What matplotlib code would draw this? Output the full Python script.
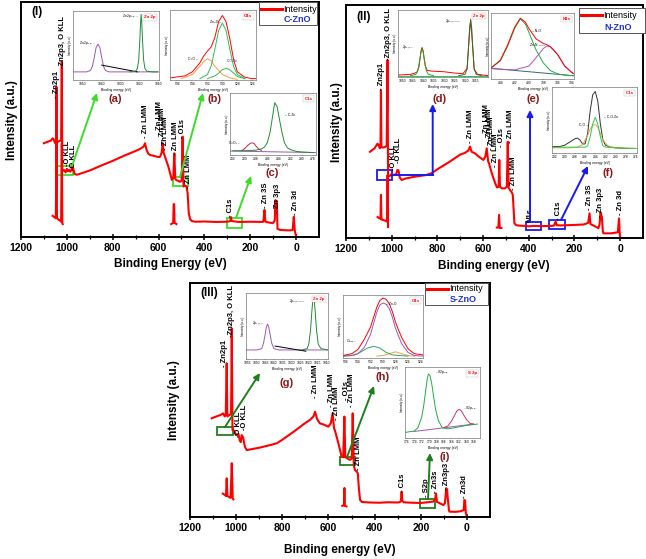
import matplotlib.pyplot as plt
from matplotlib import font_manager
from matplotlib.patches import Rectangle, FancyArrowPatch
from matplotlib.lines import Line2D

names = {f.name for f in font_manager.fontManager.ttflist}
SANS = 'Liberation Sans' if 'Liberation Sans' in names else 'DejaVu Sans'
NARROW = 'Liberation Sans Narrow' if 'Liberation Sans Narrow' in names else SANS
plt.rcParams['font.family'] = SANS

# ---------------- survey spectra (binding energy, intensity in % of axis) ----------------
c_up_E = [1100, 1085, 1070, 1062, 1058, 1052, 1047, 1045, 1043, 1040, 1030, 1025, 1022, 1020,
          1012, 1005, 1000, 995, 990, 985, 980, 976, 972, 966, 955, 900, 850, 800, 750, 700,
          680, 665, 659, 652, 645, 637, 620, 600, 593, 586, 582, 578, 572, 557, 542, 536, 531,
          527, 524, 506, 499, 495, 491, 486, 478, 473, 468, 462, 455, 440, 400, 350, 300, 287,
          284, 281, 250, 200, 145, 142, 138, 134, 110, 100, 93, 90, 87, 84, 81, 70, 30, 15, 10,
          6, 2, 0]
c_up_v = [39.9, 40.5, 41, 42, 41.6, 40, 41, 63.8, 40, 40.5, 41, 41, 74.6, 28,
          28.5, 27.5, 29, 28, 28.5, 27.8, 28.6, 31, 29, 26.8, 26.5, 28.3, 30.4, 32.4, 34.6, 36.6,
          37.5, 38.5, 39.9, 37, 35.5, 34.9, 34.5, 34, 34.2, 36, 39.9, 36, 34.2, 29.9, 24.3, 25, 35.6,
          24.8, 24.3, 23.5, 24, 42.7, 21.5, 22, 21.4, 18.6, 10, 7.5, 6.8, 6.5, 6.6, 6.4, 6.5, 6.8,
          8.5, 6.8, 6.4, 6.5, 6.4, 7, 11.5, 6.5, 6, 6, 7, 15.7, 10, 15, 3.5, 3, 2.8, 3, 8.6,
          3, 1, 0.9]
c_low_E = [1062, 1055, 1048, 1045, 1043, 1038, 1030, 1025, 1022, 1020, 1018]
c_low_v = [9, 8.5, 8, 40, 8, 7.5, 7, 6.5, 40, 6, 5.5]
c_gh_E = [545, 536, 534, 532, 530, 522]
c_gh_v = [5.5, 6, 14, 14, 6, 5.5]

n_up_E = [1095, 1075, 1062, 1058, 1052, 1049, 1047, 1045, 1040, 1030, 1022, 1018, 1016, 1010,
          1000, 990, 980, 975, 970, 965, 956, 940, 900, 850, 825, 800, 750, 700, 680, 665, 657,
          650, 635, 620, 599, 590, 584, 578, 574, 562, 547, 539, 532, 529, 526, 518, 504, 496,
          492, 488, 482, 474, 470, 466, 463, 455, 440, 420, 400, 380, 350, 300, 290, 285, 282,
          278, 260, 200, 160, 140, 134, 130, 110, 95, 90, 86, 83, 80, 76, 73, 40, 20, 10, 5, 2, 0]
n_up_v = [37, 38.5, 40.5, 40, 38.5, 39, 63.5, 39, 38.8, 39, 39.5, 76.4, 27, 26.5,
          27.5, 27, 27.5, 29.2, 29, 26, 24.9, 25.5, 26.3, 27, 27.8, 29.5, 32.5, 35.8, 36.5, 37.5, 39.2,
          37, 36.3, 35, 33.5, 35, 38.5, 33, 32, 27.8, 23.5, 21.7, 22, 33.5, 22, 21.3, 21.3, 22,
          41.3, 21.5, 20.6, 19.5, 18.5, 12, 6.3, 5.5, 5.3, 5.2, 5, 5.2, 5.1, 5.2, 5.3, 6.5, 7,
          5.5, 5.4, 5.6, 5.8, 6.5, 10.6, 6, 5, 4.2, 6, 11, 10, 9, 3, 2, 2, 2.3, 2.5, 8.4, 2, 0.5]
n_low_E = [1062, 1055, 1049, 1047, 1045, 1040, 1030, 1025, 1020, 1018, 1016]
n_low_v = [9, 8.5, 8.3, 18.5, 8, 7.8, 7.5, 7.3, 7, 27, 4.7]
n_gh_E = [540, 533, 530, 527, 520]
n_gh_v = [4.5, 4.5, 9.9, 4.3, 4.3]

s_up_E = [1106, 1085, 1070, 1056, 1050, 1045, 1041, 1038, 1030, 1022, 1019, 1016, 1010, 1000,
          990, 985, 980, 976, 970, 962, 954, 900, 850, 824, 800, 750, 700, 680, 665, 658, 650,
          637, 620, 601, 590, 582, 576, 572, 557, 543, 536, 531, 527, 521, 507, 499, 495, 490,
          485, 478, 473, 468, 463, 455, 420, 380, 340, 300, 290, 286, 283, 280, 275, 240, 200,
          170, 145, 138, 134, 130, 110, 102, 95, 90, 86, 83, 78, 76, 50, 25, 14, 11, 8, 5, 1]
s_up_v = [42.2, 43, 43.5, 44.3, 43, 43.5, 65.7, 43, 43.5, 44, 80.6, 37.2, 37, 35,
          35.5, 33, 32, 35, 34, 30, 28.6, 29.6, 30.8, 31.5, 33, 36.5, 40.2, 41.5, 43, 45, 42,
          40, 39.5, 38.6, 40, 44.3, 38, 37, 31.5, 25.8, 25.5, 42.9, 25.5, 25.2, 24.4, 25, 44.3, 22,
          20, 19.5, 18.7, 12, 7.3, 6.4, 6.2, 6.1, 6.3, 6.2, 6.4, 7, 10.8, 7, 6.3, 6.1, 6,
          6.3, 6.6, 7.5, 10.1, 6.5, 5.5, 5.1, 6, 12.3, 11.8, 8, 3, 2.3, 2.2, 2.5, 3, 7.3, 7, 2, 0.2]
s_low_E = [1058, 1050, 1044, 1041, 1038, 1030, 1024, 1019, 1015, 1012]
s_low_v = [10, 9.5, 9, 16.5, 9, 8.5, 8.2, 23, 8, 7.5]
s_gh_E = [540, 533, 531, 529, 522]
s_gh_v = [4.8, 5, 12.4, 4.8, 4.5]

# ---------------- high resolution insets (energy, normalised intensity) ----------------
a_p_E = [1055, 1048, 1046, 1045, 1044, 1043, 1042, 1041, 1040, 1039, 1038, 1036, 1025, 1010]
a_p_v = [0.12, 0.12, 0.14, 0.2, 0.33, 0.48, 0.53, 0.48, 0.33, 0.2, 0.14, 0.12, 0.12, 0.12]
a_bg_E = [1040, 1021]
a_bg_v = [0.22, 0.12]
a_g_E = [1025, 1022, 1021, 1020.3, 1019.7, 1019.3, 1019, 1018.7, 1018.3, 1017.7, 1017, 1016, 1013, 1010]
a_g_v = [0.12, 0.13, 0.17, 0.3, 0.6, 0.86, 0.97, 0.86, 0.6, 0.3, 0.17, 0.13, 0.12, 0.12]

b_r_E = [537, 535, 534, 533, 532.5, 532, 531.5, 531, 530.5, 530, 529.5, 529, 528.5, 528, 527, 526, 525.5]
b_r_v = [0.03, 0.06, 0.12, 0.25, 0.35, 0.42, 0.48, 0.62, 0.85, 0.94, 0.85, 0.6, 0.3, 0.12, 0.04, 0.02, 0.02]
b_g_E = [533, 532, 531.5, 531, 530.5, 530, 529.5, 529, 528.5, 528, 527]
b_g_v = [0.02, 0.08, 0.2, 0.45, 0.72, 0.83, 0.72, 0.45, 0.2, 0.08, 0.02]
b_o_E = [535.5, 534, 533, 532.5, 532, 531.5, 531, 530, 529, 528]
b_o_v = [0.02, 0.08, 0.2, 0.27, 0.31, 0.28, 0.2, 0.08, 0.03, 0.01]
b_s_E = [532, 531, 530.5, 530, 529.5, 529, 528.5, 528, 527]
b_s_v = [0.02, 0.06, 0.1, 0.15, 0.17, 0.15, 0.1, 0.05, 0.02]

c_g_E = [292, 290, 288, 287, 286.5, 286, 285.5, 285, 284.7, 284.3, 284, 283.5, 283, 282.5, 282, 281, 280, 278]
c_g_v = [0.07, 0.07, 0.08, 0.1, 0.13, 0.2, 0.38, 0.68, 0.86, 0.8, 0.65, 0.4, 0.2, 0.12, 0.09, 0.06, 0.05, 0.04]
c_r_E = [290.5, 290, 289.5, 289, 288.7, 288.3, 288, 287.5, 287]
c_r_v = [0.07, 0.1, 0.15, 0.19, 0.2, 0.19, 0.15, 0.1, 0.075]
c_bg_E = [292.5, 277.5]
c_bg_v = [0.065, 0.04]

d_g1_E = [1046, 1043.5, 1042.5, 1041.5, 1041, 1040.5, 1040, 1039.5, 1038.5, 1037.5, 1035]
d_g1_v = [0.02, 0.04, 0.1, 0.28, 0.38, 0.43, 0.38, 0.28, 0.1, 0.04, 0.02]
d_g2_E = [1023, 1020, 1019, 1018.3, 1017.8, 1017.3, 1016.8, 1016.3, 1015.6, 1014.6, 1012]
d_g2_v = [0.02, 0.04, 0.12, 0.45, 0.75, 0.86, 0.75, 0.45, 0.12, 0.04, 0.02]
d_r_E = [1052, 1046, 1043, 1042, 1041, 1040.5, 1040, 1039, 1038, 1036, 1030, 1025, 1021, 1019,
         1018.3, 1017.3, 1016.3, 1015.6, 1014, 1009]
d_r_v = [0.03, 0.04, 0.07, 0.15, 0.4, 0.45, 0.4, 0.17, 0.1, 0.09, 0.08, 0.06, 0.05, 0.13,
         0.46, 0.88, 0.46, 0.12, 0.04, 0.02]
d_bg_E = [1052, 1009]
d_bg_v = [0.02, 0.02]

e_g_E = [405.3, 404, 403, 402, 401.2, 400.5, 400, 399, 398, 397, 396, 395, 393.7]
e_g_v = [0.17, 0.28, 0.5, 0.78, 0.93, 0.85, 0.72, 0.45, 0.25, 0.13, 0.08, 0.06, 0.05]
e_p_E = [405.3, 402, 400, 399, 398, 397.5, 397, 396, 395, 394, 393.7]
e_p_v = [0.16, 0.14, 0.2, 0.33, 0.47, 0.51, 0.5, 0.38, 0.2, 0.1, 0.08]
e_r_E = [405.3, 404, 403, 402, 401.2, 400.5, 400, 399, 398, 397.5, 397, 396, 395, 394, 393.7]
e_r_v = [0.17, 0.29, 0.52, 0.8, 0.94, 0.88, 0.78, 0.62, 0.55, 0.53, 0.5, 0.38, 0.2, 0.1, 0.08]
e_bg_E = [405.3, 393.7]
e_bg_v = [0.165, 0.05]

f_k_E = [292.5, 291, 290, 289, 288, 287.5, 287, 286.5, 286, 285.5, 285, 284.5, 284, 283.5, 283,
         282.5, 282, 281, 280, 278, 276]
f_k_v = [0.1, 0.1, 0.12, 0.17, 0.22, 0.23, 0.2, 0.14, 0.14, 0.3, 0.65, 0.9, 0.95, 0.8, 0.45,
         0.2, 0.12, 0.09, 0.08, 0.07, 0.07]
f_g_E = [292.5, 288, 286, 285.5, 285, 284.5, 284, 283.5, 283, 282.5, 282, 280, 276]
f_g_v = [0.09, 0.09, 0.09, 0.11, 0.25, 0.45, 0.55, 0.45, 0.25, 0.11, 0.09, 0.08, 0.07]
f_o_E = [292.5, 289, 287.5, 286.5, 285.5, 285, 284.5, 284, 283.5, 283, 282.5, 281.5, 280, 276]
f_o_v = [0.08, 0.08, 0.09, 0.13, 0.27, 0.37, 0.43, 0.44, 0.4, 0.3, 0.2, 0.11, 0.08, 0.07]

g_p_E = [1056, 1050, 1047, 1046, 1045, 1044.3, 1043.6, 1043, 1042.2, 1041.2, 1040, 1037, 1025, 1009]
g_p_v = [0.14, 0.14, 0.16, 0.24, 0.38, 0.5, 0.54, 0.5, 0.38, 0.24, 0.16, 0.14, 0.14, 0.14]
g_g_E = [1024, 1021, 1020, 1019, 1018.3, 1017.8, 1017.3, 1016.8, 1016.3, 1015.6, 1014.6, 1013, 1009]
g_g_v = [0.14, 0.16, 0.23, 0.45, 0.72, 0.88, 0.94, 0.88, 0.72, 0.45, 0.23, 0.16, 0.14]
g_bg_E = [1039.3, 1021.7]
g_bg_v = [0.2, 0.12]

h_r_E = [536.4, 535, 534, 533, 532, 531, 530.5, 530, 529.5, 529, 528.5, 528, 527.5, 527, 526, 525, 523.6]
h_r_v = [0.04, 0.07, 0.14, 0.3, 0.5, 0.82, 0.93, 0.97, 0.95, 0.88, 0.75, 0.58, 0.45, 0.33, 0.15, 0.07, 0.05]
h_p_v = [0.03, 0.04, 0.07, 0.17, 0.38, 0.74, 0.86, 0.89, 0.87, 0.8, 0.66, 0.48, 0.35, 0.23, 0.09, 0.04, 0.03]
h_g_E = [536.4, 534.5, 533.5, 532.5, 531.5, 530.5, 529.5, 528.5, 526]
h_g_v = [0.03, 0.05, 0.1, 0.16, 0.19, 0.16, 0.09, 0.05, 0.03]
h_o_E = [531, 530, 529, 528, 527, 526, 525]
h_o_v = [0.03, 0.04, 0.07, 0.1, 0.07, 0.04, 0.03]

i_g_E = [176.5, 174, 173, 172, 171.5, 171, 170.5, 170.2, 169.8, 169.3, 168.8, 168.3, 167.5, 166.5, 165, 162, 160, 157]
i_g_v = [0.08, 0.1, 0.15, 0.3, 0.45, 0.65, 0.85, 0.92, 0.9, 0.78, 0.6, 0.42, 0.25, 0.15, 0.13, 0.16, 0.18, 0.2]
i_r_E = [166, 165, 164, 163, 162.5, 162, 161.5, 161, 160, 159, 158]
i_r_v = [0.15, 0.17, 0.24, 0.34, 0.39, 0.41, 0.4, 0.36, 0.27, 0.21, 0.2]
i_bg_E = [174, 158]
i_bg_v = [0.094, 0.2]

W, H = 646, 559
fig = plt.figure(figsize=(W / 100, H / 100), dpi=100)


def rect(x0, y0, x1, y1):
    return [x0 / W, 1 - y1 / H, (x1 - x0) / W, (y1 - y0) / H]


def fp(x, y):
    return (x / W, 1 - y / H)


def survey(r, traces, peaks, boxes, bcol):
    ax = fig.add_axes(rect(*r))
    for E, v in traces:
        ax.plot(E, v, color='red', lw=1.5)
    ax.set_xlim(1200, -100)
    ax.set_ylim(0, 100)
    ax.set_yticks([])
    ax.set_xticks(range(0, 1201, 200))
    ax.set_xticks(range(100, 1200, 200), minor=True)
    ax.tick_params(axis='x', which='major', direction='inout', length=5, width=1.1, labelsize=7.5, pad=1.5)
    ax.tick_params(axis='x', which='minor', direction='inout', length=3, width=0.9)
    for t in ax.get_xticklabels():
        t.set_fontweight('bold')
    for s in ax.spines.values():
        s.set_linewidth(1.4)
    for txt, E, v in peaks:
        ax.text(E, v, txt, rotation=90, ha='center', va='bottom', fontsize=5.5,
                fontweight='bold', family=NARROW)
    for e0, e1, v0, v1 in boxes:
        ax.add_patch(Rectangle((e0, v0), e1 - e0, v1 - v0, fill=False, ec=bcol, lw=1.3))
    return ax


def legend(x0, y0, x1, y1, ly, ny, name):
    fig.add_artist(Rectangle(fp(x0, y1), (x1 - x0) / W, (y1 - y0) / H, transform=fig.transFigure,
                             fc='white', ec='#555555', lw=0.7))
    fig.add_artist(Line2D([(x0 + 2) / W, (x0 + 23) / W], [1 - ly / H] * 2, transform=fig.transFigure,
                          color='red', lw=2.2))
    fig.text(*fp(x0 + 24, ly), 'Intensity', fontsize=6.5, va='center')
    fig.text(*fp(x0 + 25, ny), name, fontsize=6.5, va='center', fontweight='bold', color='#2233cc')


def inset(r, xlim, xticks, curves, notes, tag):
    ax = fig.add_axes(rect(*r))
    for E, v, c in curves:
        ax.plot(E, v, color=c, lw=0.7)
    ax.set_xlim(*xlim)
    ax.set_ylim(0, 1.02)
    ax.set_xticks(xticks)
    ax.set_yticks([])
    ax.tick_params(labelsize=2.4, length=1, width=0.3, pad=0.6)
    ax.set_xlabel('Binding energy (eV)', fontsize=2.4, labelpad=1)
    ax.set_ylabel('Intensity (a.u.)', fontsize=2.2, labelpad=0.6)
    for s in ax.spines.values():
        s.set_linewidth(0.5)
        s.set_color('#777777')
    ax.text(0.96, 0.94, tag, transform=ax.transAxes, color='red', fontsize=3.2, fontweight='bold',
            ha='right', va='top', bbox=dict(fc='white', ec='#bbbbbb', lw=0.3, pad=1))
    for txt, E, v, ha, col in notes:
        ax.text(E, v, txt, fontsize=2.4, ha=ha, va='center', color=col)
    return ax


def arrow(pts, col):
    if len(pts) > 2:
        fig.add_artist(Line2D([p[0] / W for p in pts[:-1]], [1 - p[1] / H for p in pts[:-1]],
                              transform=fig.transFigure, color=col, lw=1.4))
    fig.add_artist(FancyArrowPatch(fp(*pts[-2]), fp(*pts[-1]), transform=fig.transFigure,
                                   arrowstyle='-|>', mutation_scale=9, color=col, lw=1.4,
                                   shrinkA=0, shrinkB=0))


# ---------------- panel (I) C-ZnO ----------------
survey((21, 2, 319, 237), [(c_up_E, c_up_v), (c_low_E, c_low_v), (c_gh_E, c_gh_v)],
       [("- Zn2p1", 1043, 59), ("-Zn2p3, O KLL", 1021, 72), ("-O KLL", 995, 30), ("-O KLL", 973, 28.5),
        ("- Zn LMM", 659, 42), ("Zn LMM", 596, 45.5), ("- Zn LMM", 582, 41), ("- Zn LMM", 569, 37),
        ("- Zn LMM", 528, 35), ("- O1s", 494, 42), ("- Zn LMM", 470, 21), ("- C1s", 288, 8.5),
        ("- Zn 3S", 135, 12.3), ("- Zn 3p3", 83, 10.2), ("- Zn 3d", 4, 9.4)],
       [(1042, 975, 26.4, 30.2), (538, 470, 21.7, 25.7), (302, 237, 3.7, 8)], '#3ddc2a')
legend(259, 2, 317, 25, 9, 20, 'C-ZnO')
fig.text(*fp(37, 12), '(I)', fontsize=8.5, fontweight='bold', ha='center', va='center')
fig.text(*fp(12, 120), 'Intensity (a.u.)', rotation=90, fontsize=8.5, fontweight='bold', ha='center', va='center')
fig.text(*fp(170, 264), 'Binding Energy (eV)', fontsize=8.5, fontweight='bold', ha='center', va='center')

inset((73, 11, 159, 80), (1055.3, 1009.5), [1050, 1040, 1030, 1020, 1010],
      [(a_p_E, a_p_v, '#9b59b6'), (a_bg_E, a_bg_v, 'black'), (a_g_E, a_g_v, '#1e8c3a')],
      [('Zn 2p$_{1/2}$ –', 1043, 0.54, 'right', 'black'), ('Zn 2p$_{3/2}$ –', 1020.2, 0.93, 'right', 'black')],
      'Zn 2p')
inset((170, 10, 256, 80), (537, 525.5), [536, 534, 532, 530, 528, 526],
      [(b_o_E, b_o_v, '#f0a040'), (b_s_E, b_s_v, '#33bb55'), (b_g_E, b_g_v, '#33bb55'), (b_r_E, b_r_v, 'red')],
      [('Zn–O –', 530.2, 0.84, 'right', 'black'), ('C=O –', 533.3, 0.3, 'right', 'black'),
       ('C-O-Zn', 529.4, 0.27, 'left', '#2233aa')], 'O1s')
inset((230, 93, 316, 155), (292.5, 277.5), [292, 290, 288, 286, 284, 282, 280, 278],
      [(c_bg_E, c_bg_v, '#9b59b6'), (c_r_E, c_r_v, '#cc2244'), (c_g_E, c_g_v, '#1e8c3a')],
      [('– C-Zn', 282.9, 0.65, 'left', 'black'), ('C=O$_1$ –', 290.6, 0.2, 'right', 'black')], 'C1s')
for t, x, y in [('(a)', 115, 99), ('(b)', 214, 99), ('(c)', 272, 173)]:
    fig.text(*fp(x, y), t, fontsize=8, fontweight='bold', color='#8b1a1a', ha='center', va='center')
arrow([(72, 166), (97, 93)], '#3ddc2a')
arrow([(180, 177), (203, 93)], '#3ddc2a')
arrow([(236, 218), (251, 176)], '#3ddc2a')

# ---------------- panel (II) N-ZnO ----------------
survey((346, 5, 643, 238), [(n_up_E, n_up_v), (n_low_E, n_low_v), (n_gh_E, n_gh_v)],
       [("- Zn2p1", 1044, 63.5), ("-Zn2p3, O KLL", 1015, 76.4), ("-O KLL", 993, 29.2), ("-O KLL", 971, 32.2),
        ("- Zn LMM", 657, 40.8), ("Zn LMM", 584, 45), ("- Zn LMM", 574, 41), ("- Zn LMM", 565, 37.8),
        ("- Zn LMM", 544, 30.5), ("- O1s", 518, 39), ("- Zn LMM", 482, 40.8), ("- Zn LMM", 467, 20.6),
        ("N1s", 394, 6.9), ("- C1s", 270, 7.7), ("- Zn 3S", 134, 12), ("- Zn 3p3", 84, 9), ("- Zn 3d", 0, 9.9)],
       [(1066, 1000, 24.9, 29.2), (412, 346, 3.4, 7), (310, 241, 3.7, 7.7)], '#1a1aee')
legend(579, 8, 645, 33, 15, 27, 'N-ZnO')
fig.text(*fp(364, 17), '(II)', fontsize=8.5, fontweight='bold', ha='center', va='center')
fig.text(*fp(337, 122), 'Intensity (a.u.)', rotation=90, fontsize=8.5, fontweight='bold', ha='center', va='center')
fig.text(*fp(494, 266), 'Binding energy (eV)', fontsize=8.5, fontweight='bold', ha='center', va='center')

inset((398, 10, 488, 77), (1052, 1009), [1050, 1045, 1040, 1035, 1030, 1025, 1020, 1015],
      [(d_bg_E, d_bg_v, '#33bb55'), (d_r_E, d_r_v, 'red'), (d_g1_E, d_g1_v, '#22aa33'), (d_g2_E, d_g2_v, '#1e7a2e')],
      [('2p$_{1/2}$ –', 1044.4, 0.45, 'right', 'black'), ('2p$_{3/2}$ ——', 1021.4, 0.84, 'right', 'black')],
      'Zn 2p')
inset((491, 13, 574, 79), (405.3, 393.7), [404, 402, 400, 398, 396, 394],
      [(e_bg_E, e_bg_v, '#2f6f6f'), (e_p_E, e_p_v, '#b050c0'), (e_g_E, e_g_v, '#22aa44'), (e_r_E, e_r_v, 'red')],
      [('– N-O', 399.6, 0.74, 'left', 'black'), ('Zn-N ——', 397.8, 0.53, 'right', 'black')], 'N1s')
inset((552, 87, 637, 153), (292.5, 275.8), [292, 290, 288, 286, 284, 282, 280, 278, 276],
      [(f_k_E, f_k_v, '#333333'), (f_o_E, f_o_v, '#e8a050'), (f_g_E, f_g_v, '#33cc44')],
      [('– C-O-Zn', 282.3, 0.55, 'left', 'black'), ('C-O –', 285.4, 0.43, 'right', 'black')], 'C1s')
for t, x, y in [('(d)', 440, 99), ('(e)', 533, 99), ('(f)', 608, 173)]:
    fig.text(*fp(x, y), t, fontsize=8, fontweight='bold', color='#8b1a1a', ha='center', va='center')
arrow([(391.7, 175), (432.7, 175), (432.7, 104)], '#1a1aee')
arrow([(530, 222), (530, 110)], '#1a1aee')
arrow([(561, 220), (588, 166)], '#1a1aee')

# ---------------- panel (III) S-ZnO ----------------
survey((190, 283, 490, 517), [(s_up_E, s_up_v), (s_low_E, s_low_v), (s_gh_E, s_gh_v)],
       [("- Zn2p1", 1050, 64), ("-Zn2p3, O KLL", 1019, 77), ("-O KLL", 991, 34.2), ("-O KLL", 966, 37.2),
        ("- Zn LMM", 658, 50.9), ("- Zn LMM", 586, 47), ("- Zn LMM", 567, 41.5), ("- O1s", 524, 50),
        ("- Zn LMM", 500, 47), ("- Zn LMM", 471, 20), ("- C1s", 280, 10.7), ("- S2p", 175, 8.5),
        ("- Zn3s", 136, 10.3), ("- Zn3p3", 88, 11.5), ("- Zn3d", 12, 8.1)],
       [(1082, 1015, 35, 38.6), (550, 485, 22.2, 25.8), (204, 139, 3.7, 7.6)], '#1f7f1f')
legend(425, 283, 488, 305, 289, 300, 'S-ZnO')
fig.text(*fp(209, 293), '(III)', fontsize=8.5, fontweight='bold', ha='center', va='center')
fig.text(*fp(174, 400), 'Intensity (a.u.)', rotation=90, fontsize=8.5, fontweight='bold', ha='center', va='center')
fig.text(*fp(340, 550), 'Binding energy (eV)', fontsize=8.5, fontweight='bold', ha='center', va='center')

inset((246, 293, 328, 359), (1056, 1009), [1055, 1050, 1045, 1040, 1035, 1030, 1025, 1020, 1015, 1010],
      [(g_p_E, g_p_v, '#9b59b6'), (g_bg_E, g_bg_v, 'black'), (g_g_E, g_g_v, '#1e8c3a')],
      [('2p$_{1/2}$ –', 1045.7, 0.55, 'right', 'black'), ('2p$_{3/2}$ ——', 1021.6, 0.88, 'right', 'black')],
      'Zn 2p')
inset((343, 295, 423, 358), (536.4, 523.6), [536, 534, 532, 530, 528, 526, 524],
      [(h_o_E, h_o_v, '#e8a050'), (h_g_E, h_g_v, '#33aa55'), (h_r_E, h_p_v, '#9b59b6'), (h_r_E, h_r_v, 'red')],
      [('– Zn-O', 529.5, 0.88, 'left', 'black'), ('O$_{def}$ –', 534.2, 0.27, 'right', 'black')], 'O1s')
inset((405, 367, 480, 438), (176.5, 156.3), [176, 174, 172, 170, 168, 166, 164, 162, 160, 158],
      [(i_bg_E, i_bg_v, '#9b59b6'), (i_g_E, i_g_v, '#22aa44'), (i_r_E, i_r_v, '#cc3366')],
      [('– S2p$_{3/2}$', 168.4, 0.94, 'left', 'black'), ('– S2p$_{1/2}$', 160.9, 0.42, 'left', 'black')],
      'S 2p')
for t, x, y in [('(g)', 287, 383), ('(h)', 383, 377), ('(i)', 445, 457)]:
    fig.text(*fp(x, y), t, fontsize=8, fontweight='bold', color='#8b1a1a', ha='center', va='center')
arrow([(225, 427), (260, 373)], '#1f7f1f')
arrow([(347, 457), (374, 386)], '#1f7f1f')
arrow([(428, 499), (430, 453)], '#1f7f1f')

fig.savefig('out.png', dpi=100)
